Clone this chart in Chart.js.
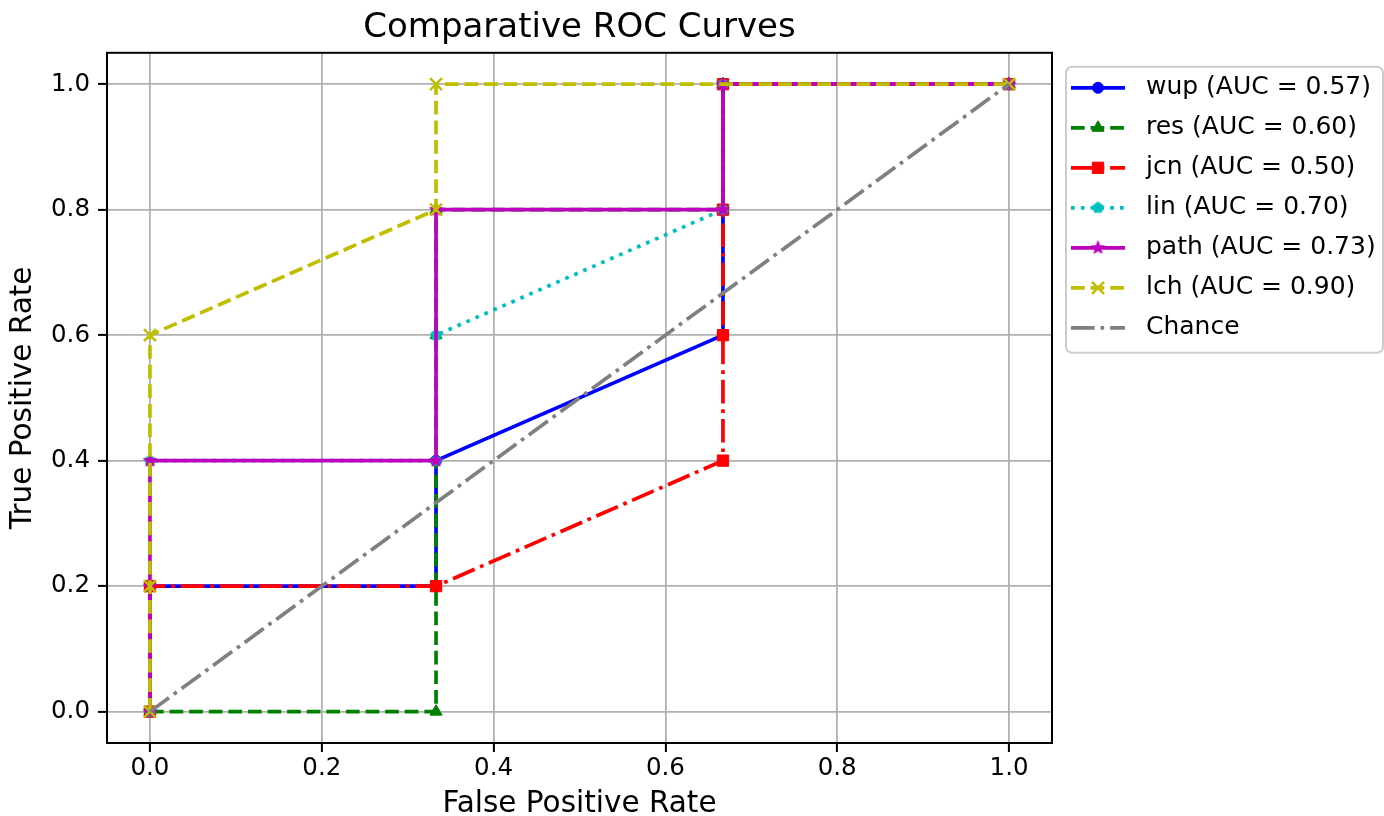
<!DOCTYPE html>
<html>
<head>
<meta charset="utf-8">
<title>Comparative ROC Curves</title>
<script src="https://cdn.jsdelivr.net/npm/chart.js@4.4.0/dist/chart.umd.min.js"></script>
<style>
  html, body { margin: 0; padding: 0; background: #fff; }
  #wrap { width: 1384px; height: 816px; }
</style>
</head>
<body>
<div id="wrap"><canvas id="rocChart" width="1384" height="816"></canvas></div>
<script>
// ==========================
// ROC POINTS (FPR / TPR)
// ==========================
const fprWup = [0, 0, 0.333, 0.333, 0.667, 0.667, 1];
const tprWup = [0, 0.2, 0.2, 0.4, 0.6, 1.0, 1.0];

const fprRes = [0, 0.333, 0.333, 0.333, 0.667, 0.667, 1];
const tprRes = [0, 0, 0.6, 0.8, 0.8, 1.0, 1.0];

const fprJcn = [0, 0, 0.333, 0.667, 0.667, 0.667, 0.667, 1];
const tprJcn = [0, 0.2, 0.2, 0.4, 0.6, 0.8, 1.0, 1.0];

const fprLin = [0, 0, 0.333, 0.333, 0.667, 0.667, 1];
const tprLin = [0, 0.4, 0.4, 0.6, 0.8, 1.0, 1.0];

const fprPath = [0, 0, 0, 0.333, 0.333, 0.667, 0.667, 1];
const tprPath = [0, 0.2, 0.4, 0.4, 0.8, 0.8, 1.0, 1.0];

const fprLch = [0, 0, 0, 0.333, 0.333, 1];
const tprLch = [0, 0.2, 0.6, 0.8, 1.0, 1.0];

const fprChance = [0, 1];
const tprChance = [0, 1];

const modelNames = ["wup", "res", "jcn", "lin", "path", "lch"];
const aucScores = [0.57, 0.60, 0.50, 0.70, 0.73, 0.90];
const axisTicks = [0.0, 0.2, 0.4, 0.6, 0.8, 1.0];

// ==========================
// LINE STYLES (matplotlib-like)
// ==========================
const LW = 3.7;
const DASHED = [13.7, 5.9];
const DASHDOT = [23.6, 5.9, 3.7, 5.9];
const DOTTED = [3.7, 6.1];
const FONT = "'DejaVu Sans', 'Liberation Sans', sans-serif";

// small canvas markers for shapes Chart.js has no built-in for
function makeMarker(shape, color, size) {
  const c = document.createElement("canvas");
  c.width = size;
  c.height = size;
  const g = c.getContext("2d");
  const cx = size / 2, cy = size / 2, r = size / 2 - 1;
  g.fillStyle = color;
  g.strokeStyle = color;
  g.lineWidth = 1.2;
  g.lineJoin = "round";
  g.beginPath();
  if (shape === "pentagon") {
    for (let i = 0; i < 5; i++) {
      const a = -Math.PI / 2 + i * 2 * Math.PI / 5;
      g.lineTo(cx + r * Math.cos(a), cy + r * Math.sin(a));
    }
  } else {
    for (let i = 0; i < 10; i++) {
      const rr = i % 2 === 0 ? r : r * 0.42;
      const a = -Math.PI / 2 + i * Math.PI / 5;
      g.lineTo(cx + rr * Math.cos(a), cy + rr * Math.sin(a));
    }
  }
  g.closePath();
  g.fill();
  g.stroke();
  return c;
}

const seriesStyles = [
  { color: "#0000ff", dash: [], marker: "circle", radius: 5.5, edge: 1 },
  { color: "#008000", dash: DASHED, marker: "triangle", radius: 7, edge: 1 },
  { color: "#ff0000", dash: DASHDOT, marker: "rect", radius: 8, edge: 1 },
  { color: "#00bfbf", dash: DOTTED, marker: makeMarker("pentagon", "#00bfbf", 13), radius: 6, edge: 1 },
  { color: "#bf00bf", dash: [], marker: makeMarker("star", "#bf00bf", 15), radius: 6, edge: 1 },
  { color: "#bfbf00", dash: DASHED, marker: "crossRot", radius: 8.5, edge: 2.5 },
];
const chanceStyle = { color: "#808080", dash: DASHDOT };

const fprAll = [fprWup, fprRes, fprJcn, fprLin, fprPath, fprLch];
const tprAll = [tprWup, tprRes, tprJcn, tprLin, tprPath, tprLch];

function toPoints(xs, ys) {
  return xs.map((x, i) => ({ x: x, y: ys[i] }));
}

// later curves sit on top, like plt.plot call order
const datasets = modelNames.map((name, i) => {
  const s = seriesStyles[i];
  return {
    label: `${name} (AUC = ${aucScores[i].toFixed(2)})`,
    data: toPoints(fprAll[i], tprAll[i]),
    borderColor: s.color,
    backgroundColor: s.color,
    borderWidth: LW,
    borderDash: s.dash,
    borderCapStyle: "butt",
    borderJoinStyle: "round",
    pointStyle: s.marker,
    pointRadius: s.radius,
    pointBorderWidth: s.edge,
    pointBackgroundColor: s.color,
    pointBorderColor: s.color,
    tension: 0,
    fill: false,
    order: 10 - i,
  };
});

datasets.push({
  label: "Chance",
  data: toPoints(fprChance, tprChance),
  borderColor: chanceStyle.color,
  backgroundColor: chanceStyle.color,
  borderWidth: LW,
  borderDash: chanceStyle.dash,
  borderCapStyle: "butt",
  pointRadius: 0,
  tension: 0,
  fill: false,
  order: 4,
});

// ==========================
// FRAME + LEGEND PLUGIN
// ==========================
const frameAndLegend = {
  id: "frameAndLegend",
  afterDatasetsDraw(chart) {
    const { ctx, chartArea: a } = chart;
    ctx.save();
    ctx.strokeStyle = "#000";
    ctx.lineWidth = 2;
    ctx.strokeRect(a.left, a.top, a.right - a.left, a.bottom - a.top);
    ctx.restore();
  },
  afterDraw(chart) {
    const { ctx, chartArea: a } = chart;
    const left = a.right + 14;
    const top = a.top + 14;
    const w = 317, h = 286;

    ctx.save();
    ctx.beginPath();
    ctx.roundRect(left, top, w, h, 6);
    ctx.fillStyle = "rgba(255,255,255,0.8)";
    ctx.fill();
    ctx.strokeStyle = "#cccccc";
    ctx.lineWidth = 2;
    ctx.stroke();

    chart.data.datasets.forEach((ds, i) => {
      const y = top + 21 + i * 40;
      const x0 = left + 5, x1 = left + 59;

      ctx.beginPath();
      ctx.setLineDash(ds.borderDash || []);
      ctx.lineCap = "butt";
      ctx.strokeStyle = ds.borderColor;
      ctx.lineWidth = ds.borderWidth;
      ctx.moveTo(x0, y);
      ctx.lineTo(x1, y);
      ctx.stroke();
      ctx.setLineDash([]);

      if (ds.pointRadius > 0) {
        ctx.fillStyle = ds.pointBackgroundColor;
        ctx.strokeStyle = ds.pointBorderColor;
        ctx.lineWidth = ds.pointBorderWidth;
        Chart.helpers.drawPoint(ctx, {
          pointStyle: ds.pointStyle,
          radius: ds.pointRadius,
          borderWidth: ds.pointBorderWidth,
          rotation: 0,
        }, (x0 + x1) / 2, y);
      }

      ctx.fillStyle = "#000";
      ctx.font = `25px ${FONT}`;
      ctx.textAlign = "left";
      ctx.textBaseline = "middle";
      ctx.fillText(ds.label, left + 80, y);
    });
    ctx.restore();
  },
};

// ==========================
// AXES
// ==========================
function axisOptions(titleText, isX) {
  return {
    type: "linear",
    min: -0.05,
    max: 1.05,
    afterBuildTicks: (scale) => {
      scale.ticks = axisTicks.map(v => ({ value: v }));
    },
    afterFit: (scale) => {
      if (isX) scale.height = 73;
      else scale.width = 107;
    },
    grid: {
      color: "#b0b0b0",
      lineWidth: 1.8,
      tickColor: "#000",
      tickWidth: 2,
      tickLength: 9,
    },
    border: { display: true, color: "#000", width: 2 },
    ticks: {
      color: "#000",
      font: { family: FONT, size: 24.5 },
      padding: isX ? 2 : 8,
      callback: (v) => Number(v).toFixed(1),
    },
    title: {
      display: true,
      text: titleText,
      color: "#000",
      font: { family: FONT, size: 29.5, lineHeight: isX ? 0.8 : 1.2 },
      padding: isX ? { top: 0, bottom: 0 } : { top: 6, bottom: 0 },
    },
  };
}

const ctx = document.getElementById("rocChart").getContext("2d");
const chart = new Chart(ctx, {
  type: "line",
  data: { datasets: datasets },
  options: {
    responsive: false,
    animation: false,
    events: [],
    layout: { padding: { top: 0, left: 0, bottom: 0, right: 332 } },
    scales: {
      x: axisOptions("False Positive Rate", true),
      y: axisOptions("True Positive Rate", false),
    },
    plugins: {
      legend: { display: false },
      tooltip: { enabled: false },
      title: {
        display: true,
        text: "Comparative ROC Curves",
        color: "#000",
        fullSize: false,
        font: { family: FONT, size: 34, weight: "normal" },
        padding: { top: 8, bottom: 4 },
      },
    },
  },
  plugins: [frameAndLegend],
});
</script>
</body>
</html>
